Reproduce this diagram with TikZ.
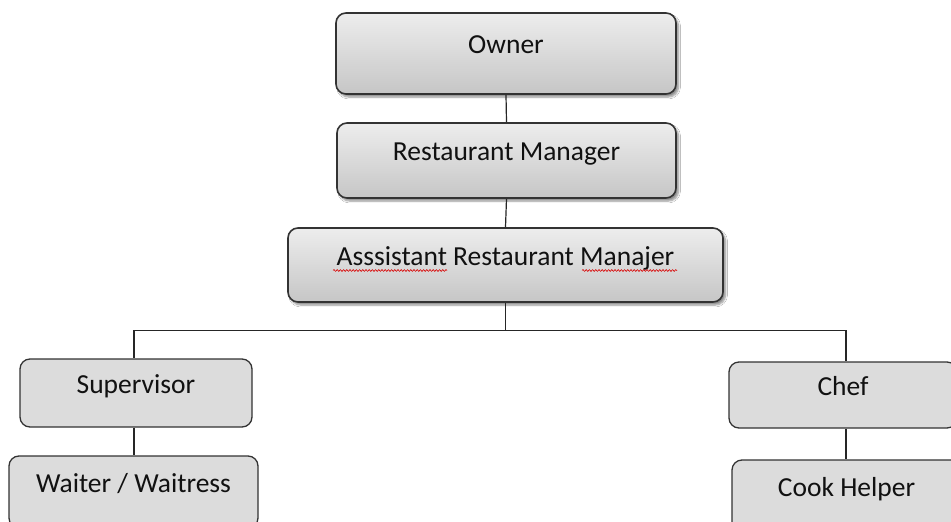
\documentclass[tikz,border=0pt]{standalone}
\usepackage{fontspec}
\setmainfont{Carlito}
\usetikzlibrary{shadows.blur,decorations.pathmorphing}
\definecolor{boxline}{HTML}{333333}
\definecolor{flatfill}{HTML}{DCDCDC}
\definecolor{toptop}{HTML}{EDEDED}
\definecolor{topbot}{HTML}{C6C6C6}
\definecolor{txt}{HTML}{111111}
\tikzset{
  orgbox/.style={draw=boxline, line width=1.6pt, rounded corners=10pt,
    inner sep=0pt, font=\fontsize{27.5}{32}\selectfont, text=txt,
    text height=9pt, text depth=9pt},
  topbox/.style={orgbox, top color=toptop, bottom color=topbot,
    blur shadow={shadow xshift=2.5pt, shadow yshift=-3pt, shadow blur steps=6, shadow opacity=45}},
  lowbox/.style={orgbox, fill=flatfill, line width=1.3pt},
  link/.style={draw=black!85, line width=1.2pt},
  spell/.style={draw=red!85!black, line width=0.6pt, decorate,
    decoration={snake, amplitude=0.9pt, segment length=3.2pt}}
}
\begin{document}
\begin{tikzpicture}[x=1pt,y=-1pt]
\useasboundingbox (0,0) rectangle (951,522);
\clip (0,0) rectangle (951,522);
\fill[white] (0,0) rectangle (951,522);
% top boxes
\node[topbox, minimum width=340pt, minimum height=81pt] (owner) at (506,53.5) {Owner};
\node[topbox, minimum width=339pt, minimum height=75pt] (mgr) at (506.5,160.5) {Restaurant Manager};
\node[topbox, minimum width=435pt, minimum height=74pt] (asst) at (505.5,265) {Asssistant Restaurant Manajer};
% lower boxes
\node[lowbox, minimum width=232pt, minimum height=68pt, text depth=3pt, text height=3pt] (sup) at (136,393) {Supervisor};
\node[lowbox, minimum width=249pt, minimum height=72pt, text depth=3pt, text height=3pt] (wait) at (133.5,492) {Waiter / Waitress};
\node[lowbox, minimum width=228pt, minimum height=66pt, text depth=3pt, text height=3pt] (chef) at (843,395) {Chef};
\node[lowbox, minimum width=229pt, minimum height=72pt, text depth=3pt, text height=3pt] (cook) at (846.5,496) {Cook Helper};
% connectors
\coordinate (bus) at (505.5,330.5);
\draw[link] (owner.south) -- (mgr.north);
\draw[link] (mgr.south) -- (asst.north);
\draw[link] (asst.south) -- (bus);
\draw[link] (bus) -| ([xshift=-2pt]sup.north);
\draw[link] (bus) -| ([xshift=3pt]chef.north);
\draw[link] ([xshift=-2pt]sup.south) -- ([xshift=-2pt]sup.south |- wait.north);
\draw[link] ([xshift=3pt]chef.south) -- ([xshift=3pt]chef.south |- cook.north);
% spell-check marks
\draw[spell] (333,270.5) -- (447,270.5);
\draw[spell] (582,270.5) -- (677,270.5);
\end{tikzpicture}
\end{document}
